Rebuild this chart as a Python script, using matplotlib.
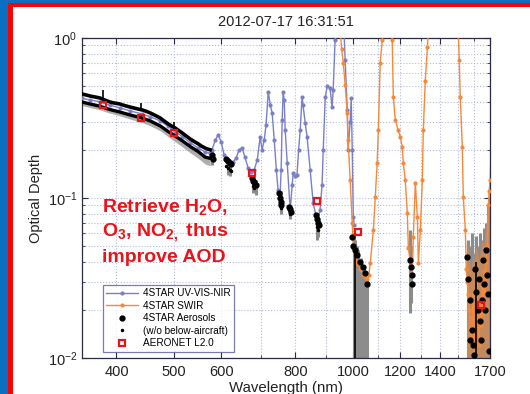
"""
4STAR spectral optical depth, 2012-07-17 16:31:51
Recreation of the slide figure: UV-VIS-NIR + SWIR spectra, aerosol
wavelengths and AERONET L2.0 points on log-log axes.
"""

import numpy as np
import matplotlib.pyplot as plt
from matplotlib.patches import Rectangle
from matplotlib.ticker import FixedLocator, FixedFormatter, NullFormatter

plt.rcParams['font.family'] = ['Liberation Sans', 'DejaVu Sans']
plt.rcParams['mathtext.fontset'] = 'custom'
plt.rcParams['mathtext.rm'] = 'Liberation Sans'
plt.rcParams['mathtext.bf'] = 'Liberation Sans:bold'

TITLE = "2012-07-17 16:31:51"

# ---- 4STAR UV-VIS-NIR spectrometer (nm, optical depth) ----
VIS_WL = [350, 361, 375, 390, 405, 422, 442, 456, 474, 489,
          502, 516, 532, 549, 564, 575, 579, 587, 593, 600,
          607, 614, 621, 629, 636, 643, 651, 658, 666, 674,
          682, 690, 698, 703, 709, 714, 720, 726, 731, 737,
          743, 748, 754, 757, 760, 763, 766, 769, 775, 784,
          790, 793, 799, 805, 810, 815, 821, 824, 831, 837,
          847, 857, 866, 873, 880, 887, 891, 898, 905, 915,
          922, 926, 933, 941, 963, 970, 978, 981, 989, 993,
          997, 1001, 1005]
VIS_TAU = [0.42, 0.41, 0.40, 0.38, 0.366, 0.35, 0.335, 0.322, 0.303, 0.28,
           0.26, 0.242, 0.222, 0.205, 0.194, 0.19, 0.20, 0.231, 0.248, 0.224,
           0.186, 0.168, 0.166, 0.168, 0.178, 0.20, 0.205, 0.18, 0.154, 0.145,
           0.15, 0.173, 0.241, 0.20, 0.231, 0.286, 0.46, 0.38, 0.34, 0.231,
           0.15, 0.112, 0.105, 0.15, 0.307, 0.46, 0.41, 0.266, 0.166, 0.084,
           0.12, 0.143, 0.138, 0.14, 0.20, 0.266, 0.43, 0.38, 0.294, 0.241,
           0.15, 0.093, 0.078, 0.073, 0.084, 0.12, 0.20, 0.428, 0.50, 0.487,
           0.37, 0.473, 0.97, 1.4, 1.4, 0.73, 0.355, 0.20, 0.30, 0.42,
           0.20, 0.076, 0.068]

# ---- 4STAR SWIR spectrometer ----
SWIR_WL = [945, 952, 957, 963, 970, 978, 981, 989, 997, 1001,
           1009, 1016, 1028, 1040, 1048, 1057, 1063, 1069, 1082, 1090,
           1098, 1103, 1111, 1120, 1128, 1155, 1164, 1169, 1178, 1191,
           1201, 1210, 1215, 1224, 1234, 1239, 1248, 1258, 1263, 1273,
           1283, 1288, 1298, 1308, 1313, 1323, 1334, 1339, 1349, 1486,
           1503, 1509, 1515, 1527, 1533, 1545, 1551, 1557, 1563, 1569,
           1575, 1581, 1587, 1593, 1599, 1605, 1612, 1618, 1624, 1630,
           1637, 1643, 1650, 1656, 1663, 1669, 1675, 1682, 1689, 1695,
           1700]
SWIR_TAU = [1.5, 1.12, 0.85, 0.698, 0.51, 0.34, 0.231, 0.13, 0.07, 0.049,
            0.042, 0.039, 0.036, 0.033, 0.032, 0.031, 0.033, 0.039, 0.063, 0.101,
            0.166, 0.266, 0.698, 0.972, 1.5, 1.5, 0.972, 0.428, 0.307, 0.266,
            0.241, 0.209, 0.166, 0.13, 0.081, 0.049, 0.04, 0.033, 0.057, 0.124,
            0.076, 0.039, 0.063, 0.13, 0.266, 0.541, 0.878, 1.12, 1.5, 1.5,
            1.12, 0.73, 0.428, 0.209, 0.101, 0.063, 0.036, 0.03, 0.025, 0.02,
            0.015, 0.012, 0.018, 0.025, 0.014, 0.011, 0.02, 0.03, 0.017, 0.012,
            0.022, 0.016, 0.028, 0.019, 0.035, 0.025, 0.04, 0.05, 0.09, 0.11,
            0.13]

# SWIR uncertainty envelope at the long-wave end
SWIR_ENV_WL = [1552, 1560, 1570, 1580, 1590, 1600, 1610, 1620,
               1630, 1640, 1650, 1660, 1670, 1680, 1690, 1700]
SWIR_ENV_HI = [0.04, 0.05, 0.04, 0.035, 0.045, 0.04, 0.05, 0.045,
               0.04, 0.05, 0.055, 0.05, 0.065, 0.07, 0.12, 0.2]

# ---- 4STAR aerosol channels: continuous UV-VIS part ----
AER_CONT_WL = [350, 356, 361, 368, 375, 382, 390, 397, 405, 413,
               422, 432, 442, 449, 456, 465, 474, 481, 489, 495,
               502, 509, 516, 524, 532, 540, 549, 556, 564, 570, 575]
AER_CONT_TAU = [0.447, 0.44, 0.434, 0.428, 0.422, 0.41, 0.398, 0.392, 0.387, 0.378,
                0.37, 0.362, 0.355, 0.348, 0.34, 0.328, 0.316, 0.303, 0.29, 0.282,
                0.274, 0.264, 0.255, 0.244, 0.234, 0.226, 0.218, 0.211, 0.205, 0.202, 0.20]

# ---- 4STAR aerosol channels: window clusters ----
AER_WL = [580, 582, 612, 616, 620, 624, 675, 678, 682, 686,
          752, 754, 756, 758, 780, 782, 785, 866, 870, 873,
          876, 997, 1001, 1009, 1016, 1028, 1040, 1048, 1057, 1248,
          1251, 1255, 1258, 1557, 1563, 1575, 1575, 1587, 1593, 1599,
          1605, 1612, 1624, 1630, 1637, 1643, 1650, 1656, 1663, 1669,
          1675, 1682, 1689, 1695]
AER_TAU = [0.186, 0.175, 0.175, 0.17, 0.166, 0.163, 0.133, 0.128, 0.125, 0.12,
           0.107, 0.10, 0.095, 0.09, 0.088, 0.085, 0.082, 0.078, 0.074, 0.07,
           0.068, 0.057, 0.05, 0.047, 0.044, 0.04, 0.037, 0.034, 0.029, 0.041,
           0.037, 0.033, 0.029, 0.043, 0.031, 0.023, 0.013, 0.015, 0.012, 0.0105,
           0.036, 0.026, 0.02, 0.031, 0.017, 0.013, 0.023, 0.041, 0.029, 0.02,
           0.047, 0.033, 0.025, 0.011]

# ---- aerosol channels without the below-aircraft part ----
LOW_WL = [350, 361, 375, 390, 405, 422, 442, 456, 474, 489,
          502, 516, 532, 549, 564, 575]
LOW_TAU = [0.398, 0.387, 0.375, 0.357, 0.345, 0.33, 0.316, 0.303, 0.282, 0.26,
           0.244, 0.228, 0.21, 0.195, 0.18, 0.177]
LOW_BAND = [0.378, 0.368, 0.356, 0.339, 0.327, 0.311, 0.296, 0.283, 0.263, 0.241,
            0.225, 0.209, 0.192, 0.177, 0.163, 0.159]
LOW_PT_WL = [612, 616, 620, 624, 678, 682, 754, 758, 782, 870, 873]
LOW_PT_TAU = [0.158, 0.153, 0.15, 0.148, 0.118, 0.115, 0.092, 0.086, 0.08, 0.066, 0.063]

# ---- gray uncertainty bars ----
ERR_WL = [580, 616, 622, 680, 686, 756, 783, 870, 874, 1003,
          1008, 1014, 1020, 1030, 1045, 1055, 1246, 1252, 1560, 1572,
          1584, 1596, 1610, 1622, 1634, 1646, 1658, 1672, 1686, 1696]
ERR_LO = [0.16, 0.14, 0.137, 0.108, 0.105, 0.08, 0.074, 0.055, 0.057, 0.01,
          0.01, 0.01, 0.01, 0.01, 0.01, 0.01, 0.019, 0.022, 0.01, 0.01,
          0.01, 0.01, 0.01, 0.01, 0.01, 0.01, 0.01, 0.01, 0.01, 0.01]
ERR_HI = [0.20, 0.175, 0.17, 0.14, 0.13, 0.11, 0.09, 0.08, 0.076, 0.06,
          0.055, 0.05, 0.047, 0.042, 0.038, 0.032, 0.063, 0.05, 0.055, 0.05,
          0.06, 0.045, 0.058, 0.05, 0.06, 0.055, 0.065, 0.07, 0.09, 0.10]

# black error ticks on the aerosol line
BERR_WL = [380, 440, 500, 1006, 1612]
BERR_LO = [0.41, 0.352, 0.27, 0.01, 0.01]
BERR_HI = [0.475, 0.395, 0.298, 0.05, 0.04]

# ---- AERONET L2.0 ----
AERONET_WL = [380, 440, 500, 675, 870, 1020, 1640]
AERONET_TAU = [0.38, 0.315, 0.255, 0.143, 0.096, 0.061, 0.0215]

XTICKS = [400, 500, 600, 800, 1000, 1200, 1400, 1700]
XMINOR = [700, 900, 1100, 1300, 1500, 1600]

BLUE = '#7B7FC6'
ORANGE = '#F4893A'
GRAY = '#8C8C8C'
GRID = '#B4BAD8'
SPINE = '#2B2B45'
SLIDE_BLUE = '#0A6FC0'
SLIDE_RED = '#FF0000'

W, H = 530, 394
fig = plt.figure(figsize=(W / 100, H / 100), dpi=100, facecolor='white')


def frame_rect(x0, y0, x1, y1, color):
    # rectangle given in pixels from the top-left corner
    fig.add_artist(Rectangle((x0 / W, 1 - y1 / H), (x1 - x0) / W, (y1 - y0) / H,
                             transform=fig.transFigure, facecolor=color,
                             lw=0, zorder=-10))


# slide frame: blue outside, red line along the top and left
frame_rect(0, 0, 8.3, H, SLIDE_BLUE)
frame_rect(0, 0, W, 2.7, SLIDE_BLUE)
frame_rect(8.3, 2.7, 13.3, H, SLIDE_RED)
frame_rect(8.3, 2.7, W, 7.3, SLIDE_RED)

ax = fig.add_axes([82 / W, 1 - 358 / H, 408 / W, 320 / H])
ax.set_xscale('log')
ax.set_yscale('log')

ax.vlines(ERR_WL, ERR_LO, ERR_HI, color=GRAY, lw=2.2, zorder=2)
ax.fill_between(SWIR_ENV_WL, 0.01, SWIR_ENV_HI, color=ORANGE, alpha=0.55,
                lw=0, zorder=2)
ax.fill_between(LOW_WL, LOW_BAND, LOW_TAU, color=GRAY, alpha=0.7, lw=0, zorder=2)

h_vis, = ax.plot(VIS_WL, VIS_TAU, color=BLUE, lw=1.0, marker='.', ms=4,
                 zorder=3, label='4STAR UV-VIS-NIR')
h_swir, = ax.plot(SWIR_WL, SWIR_TAU, color=ORANGE, lw=1.0, marker='.', ms=4,
                  zorder=3, label='4STAR SWIR')

ax.plot(AER_CONT_WL, AER_CONT_TAU, color='k', lw=2.6, zorder=4)
h_aer, = ax.plot(AER_WL, AER_TAU, ls='none', marker='.', ms=7, color='k',
                 zorder=4, label='4STAR Aerosols')
ax.plot(LOW_WL, LOW_TAU, color='k', lw=2.4, zorder=4)
h_low, = ax.plot(LOW_PT_WL, LOW_PT_TAU, ls='none', marker='.', ms=3, color='k',
                 zorder=4, label='(w/o below-aircraft)')
ax.vlines(BERR_WL, BERR_LO, BERR_HI, color='k', lw=1.2, zorder=4)

h_aero, = ax.plot(AERONET_WL, AERONET_TAU, ls='none', marker='s', ms=5,
                  mfc='none', mec='#E8141C', mew=1.6, zorder=6,
                  label='AERONET L2.0')

ax.set_xlim(350, 1700)
ax.set_ylim(0.01, 1)
ax.xaxis.set_major_locator(FixedLocator(XTICKS))
ax.xaxis.set_major_formatter(FixedFormatter([str(t) for t in XTICKS]))
ax.xaxis.set_minor_locator(FixedLocator(XMINOR))
ax.xaxis.set_minor_formatter(NullFormatter())

ax.grid(True, which='both', ls=':', lw=0.8, color=GRID, zorder=0)
ax.set_axisbelow(True)
ax.tick_params(which='both', direction='in', top=True, right=True,
               color=SPINE, labelsize=10.5, labelcolor='#222222')
ax.tick_params(which='major', length=4.5, width=0.8)
ax.tick_params(which='minor', length=2.5, width=0.6)
ax.tick_params(axis='x', pad=5)
for s in ax.spines.values():
    s.set_color(SPINE)
    s.set_linewidth(0.9)

fig.text(286 / W, 1 - 22 / H, TITLE, ha='center', va='center',
         fontsize=10.5, color='#222222')
ax.set_xlabel('Wavelength (nm)', fontsize=10.8, color='#222222')
ax.xaxis.set_label_coords(0.5, -0.072)
ax.set_ylabel('Optical Depth', fontsize=10.5, color='#222222')
ax.yaxis.set_label_coords(-0.095, 0.5)

ax.text(0.05, 0.5,
        'Retrieve H$_\\mathbf{2}$O,\nO$_\\mathbf{3}$, NO$_\\mathbf{2,}$ thus\nimprove AOD',
        transform=ax.transAxes, ha='left', va='top', color='#E8141C',
        fontsize=14, fontweight='bold', linespacing=1.25, zorder=7)

leg = ax.legend(handles=[h_vis, h_swir, h_aer, h_low, h_aero],
                loc='lower left', bbox_to_anchor=(0.051, 0.019),
                borderaxespad=0, fontsize=7.2, frameon=True, fancybox=False,
                handlelength=3.2, handletextpad=0.5, labelspacing=0.25,
                borderpad=0.35, markerscale=1.0)
leg.get_frame().set_edgecolor('#5A5A9A')
leg.get_frame().set_linewidth(0.9)
leg.set_zorder(8)

fig.savefig('out.png', dpi=100)
